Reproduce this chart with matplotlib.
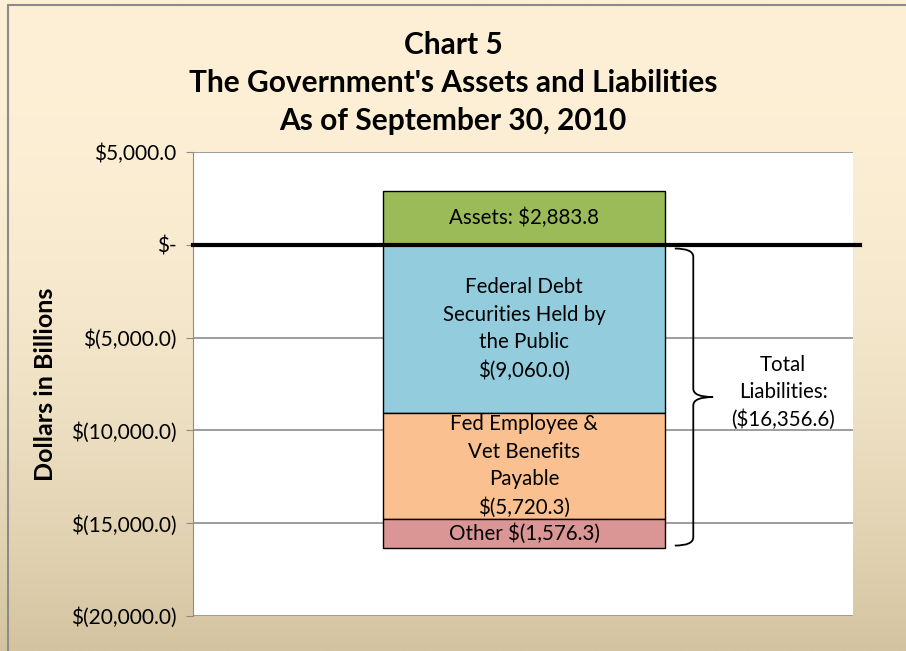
import numpy as np
import matplotlib
matplotlib.use("Agg")
import matplotlib.pyplot as plt
from matplotlib.path import Path
from matplotlib.patches import PathPatch, Rectangle
from matplotlib.colors import to_rgb
import matplotlib.transforms as mtransforms

# data (billions of dollars, as of Sep 30, 2010)
asset_name = "Assets"
asset_value = 2883.8
liab_names = ["Federal Debt\nSecurities Held by\nthe Public",
              "Fed Employee &\nVet Benefits\nPayable",
              "Other"]
liab_values = [-9060.0, -5720.3, -1576.3]
total_liab = -16356.6
y_ticks = [5000, 0, -5000, -10000, -15000, -20000]

asset_color = "#9BBB59"
liab_colors = ["#93CDDD", "#FAC090", "#D99694"]

plt.rcParams["font.family"] = ["Lato", "DejaVu Sans"]


def money(v):
    if v == 0:
        return "$-"
    if v < 0:
        return f"$({abs(v):,.1f})"
    return f"${v:,.1f}"


fig = plt.figure(figsize=(9.06, 6.51), dpi=100)

# background gradient (cream -> tan)
bg = fig.add_axes([0, 0, 1, 1], zorder=-10)
top_c = np.array(to_rgb("#FDF0D6"))
bot_c = np.array(to_rgb("#D3C3A0"))
t = np.linspace(0, 1, 256) ** 2.2
grad = top_c[None, :] * (1 - t[:, None]) + bot_c[None, :] * t[:, None]
bg.imshow(grad[:, None, :], aspect="auto", extent=[0, 1, 0, 1])
bg.set_axis_off()
fig.patches.append(Rectangle((8 / 906, -0.1), 1.2, 1.1 - 5 / 651,
                             transform=fig.transFigure, fill=False,
                             edgecolor="#8C8C8C", lw=1.5, zorder=5))

ax = fig.add_axes([193 / 906, 1 - 616 / 651, 660 / 906, 464 / 651])
ax.set_facecolor("white")
ax.set_xlim(0, 1)
ax.set_ylim(-20000, 5000)

bar_x = 0.5015
bar_w = 0.427
fs = 14.8

# asset bar
ax.bar(bar_x, asset_value, width=bar_w, color=asset_color,
       edgecolor="black", lw=1, zorder=3)
ax.text(bar_x, asset_value / 2, f"{asset_name}: {money(asset_value)}",
        ha="center", va="center", fontsize=fs, zorder=4)

# liability bars stacked downward
bottom = 0.0
for name, val, col in zip(liab_names, liab_values, liab_colors):
    ax.bar(bar_x, val, bottom=bottom, width=bar_w, color=col,
           edgecolor="black", lw=1, zorder=3)
    sep = "\n" if "\n" in name else " "
    ax.text(bar_x, bottom + val / 2, f"{name}{sep}{money(val)}",
            ha="center", va="center", fontsize=fs, linespacing=1.48,
            zorder=4)
    bottom += val

# zero line
ax.axhline(0, xmin=0, xmax=1.011, color="black", lw=3, clip_on=False, zorder=5)

# axes styling
ax.set_yticks(y_ticks)
ax.set_yticklabels([money(v) for v in y_ticks], fontsize=15)
ax.set_xticks([])
ax.grid(axis="y", color="#8C8C8C", lw=1.2, zorder=0)
for s in ["top", "right", "bottom"]:
    ax.spines[s].set_visible(False)
ax.spines["left"].set_color("#8C8C8C")
ax.tick_params(axis="y", length=5, color="#8C8C8C", pad=7)
ax.set_ylabel("Dollars in Billions", fontsize=18, fontweight="bold", labelpad=10)

# curly brace for total liabilities
trans = mtransforms.blended_transform_factory(ax.transAxes, ax.transData)
x0, xs, xp = 0.730, 0.758, 0.788
ytop, ybot = -200, total_liab + 150
ymid = (ytop + ybot) / 2
r = 450
verts = [(x0, ytop), (xs, ytop), (xs, ytop - r),
         (xs, ymid + r), (xs, ymid), (xp, ymid),
         (xs, ymid), (xs, ymid - r),
         (xs, ybot + r), (xs, ybot), (x0, ybot)]
codes = [Path.MOVETO, Path.CURVE3, Path.CURVE3,
         Path.LINETO, Path.CURVE3, Path.CURVE3,
         Path.CURVE3, Path.CURVE3,
         Path.LINETO, Path.CURVE3, Path.CURVE3]
ax.add_patch(PathPatch(Path(verts, codes), transform=trans, fill=False,
                       edgecolor="black", lw=1.3, clip_on=False, zorder=4))
ax.text(0.894, ymid + 250, f"Total\nLiabilities:\n({money(abs(total_liab))})",
        transform=trans, ha="center", va="center", fontsize=fs,
        linespacing=1.45, zorder=4)

for ypx, line in [(45, "Chart 5"),
                  (83, "The Government's Assets and Liabilities"),
                  (121, "As of September 30, 2010")]:
    fig.text(0.5, 1 - ypx / 651, line, ha="center", va="center",
             fontsize=21.5, fontweight="bold")

fig.savefig("out.png", dpi=100)
